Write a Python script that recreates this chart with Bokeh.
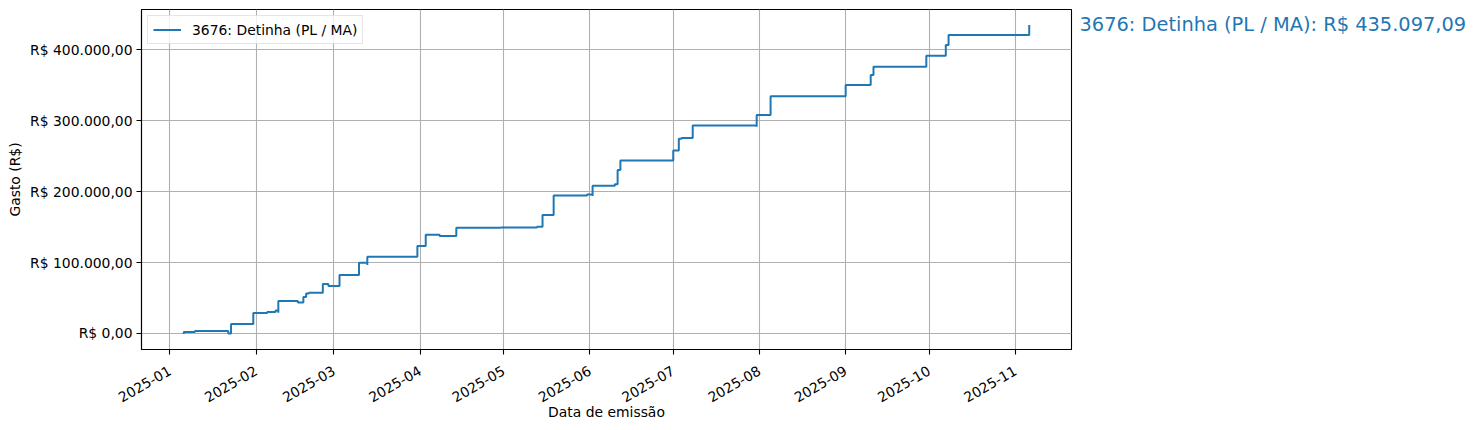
import math
import pandas as pd
from bokeh.plotting import figure
from bokeh.layouts import row
from bokeh.models import (Range1d, FixedTicker, Legend, LegendItem,
                          ColumnDataSource, DatetimeTickFormatter)
from bokeh.core.properties import value
from bokeh.embed import file_html
from bokeh.resources import INLINE

# ---- data ----
series_name = "3676: Detinha (PL / MA)"
dates = [
    "2025-01-06", "2025-01-06", "2025-01-10", "2025-01-16", "2025-01-16",
    "2025-01-22", "2025-01-23", "2025-01-31", "2025-02-05", "2025-02-08",
    "2025-02-09", "2025-02-09", "2025-02-16", "2025-02-18", "2025-02-19",
    "2025-02-20", "2025-02-25", "2025-02-27", "2025-03-03", "2025-03-10",
    "2025-03-13", "2025-03-13", "2025-03-31", "2025-04-03", "2025-04-08",
    "2025-04-14", "2025-04-30", "2025-04-30", "2025-05-13", "2025-05-15",
    "2025-05-19", "2025-05-31", "2025-06-02", "2025-06-02", "2025-06-10",
    "2025-06-11", "2025-06-11", "2025-06-12", "2025-07-01", "2025-07-03",
    "2025-07-04", "2025-07-08", "2025-07-31", "2025-07-31", "2025-08-05",
    "2025-09-01", "2025-09-10", "2025-09-11", "2025-09-30", "2025-10-07",
    "2025-10-08", "2025-11-06",
]
cumulative = [
    -800, 2100, 3500, 2700, 3500,
    0, 13200, 28900, 30300, 32500,
    29300, 45900, 43800, 51500, 56500,
    57300, 69800, 67100, 82600, 99700,
    96500, 108100, 123300, 139400, 137400,
    149100, 150200, 149300, 150500, 167200,
    194600, 195900, 194000, 208500, 210500,
    217300, 230600, 243800, 258100, 274600,
    275700, 293300, 291500, 308000, 334400,
    350400, 364600, 376000, 391600, 407000,
    421000, 435097.09,
]
x_tick_labels = ["2025-01", "2025-02", "2025-03", "2025-04", "2025-05", "2025-06",
                 "2025-07", "2025-08", "2025-09", "2025-10", "2025-11"]
y_ticks = [0, 100000, 200000, 300000, 400000]
y_tick_labels = ["R$ 0,00", "R$ 100.000,00", "R$ 200.000,00", "R$ 300.000,00", "R$ 400.000,00"]


def brl(v):
    s = f"{v:,.2f}"
    return "R$ " + s.replace(",", "X").replace(".", ",").replace("X", ".")


def ms(ts):
    return (ts - pd.Timestamp("1970-01-01")) / pd.Timedelta(milliseconds=1)


x = pd.to_datetime(dates)
xt = pd.to_datetime(x_tick_labels, format="%Y-%m")

# matplotlib-like 5% margins
xmin, xmax = ms(x.min()), ms(x.max())
xpad = 0.05 * (xmax - xmin)
ymin, ymax = min(cumulative), max(cumulative)
ypad = 0.05 * (ymax - ymin)

FONT = "DejaVu Sans"
FS = "13.9px"
BLUE = "#1f77b4"
TOP = 9
FRAME_H = 340

yr = Range1d(ymin - ypad, ymax + ypad)

p = figure(
    x_axis_type="datetime",
    frame_width=930, frame_height=FRAME_H,
    min_border_left=141, min_border_right=4,
    min_border_top=TOP, min_border_bottom=40,
    output_backend="svg", toolbar_location=None,
    x_range=Range1d(xmin - xpad, xmax + xpad),
    y_range=yr,
)

src = ColumnDataSource(dict(x=x, y=cumulative))
r = p.step(x="x", y="y", source=src, mode="after", line_color=BLUE, line_width=2)

# axes
p.xaxis.ticker = FixedTicker(ticks=[ms(t) for t in xt])
fmt = "%Y-%m"
p.xaxis.formatter = DatetimeTickFormatter(
    milliseconds=fmt, seconds=fmt, minsec=fmt, minutes=fmt, hourmin=fmt,
    hours=fmt, days=fmt, months=fmt, years=fmt)
p.xaxis.major_label_orientation = math.pi / 6
p.yaxis.ticker = FixedTicker(ticks=y_ticks)
p.yaxis.major_label_overrides = {t: lab for t, lab in zip(y_ticks, y_tick_labels)}

p.xaxis.axis_label = "Data de emissão"
p.yaxis.axis_label = "Gasto (R$)"
for ax in (p.xaxis, p.yaxis):
    ax.axis_label_text_font = FONT
    ax.axis_label_text_font_size = FS
    ax.axis_label_text_font_style = "normal"
    ax.axis_label_text_color = "black"
    ax.major_label_text_font = FONT
    ax.major_label_text_font_size = FS
    ax.major_label_text_color = "black"
    ax.axis_line_color = "black"
    ax.axis_line_width = 1.1
    ax.major_tick_line_color = "black"
    ax.major_tick_line_width = 1.1
    ax.major_tick_out = 5
    ax.major_tick_in = 0
    ax.minor_tick_line_color = None
    ax.major_label_standoff = 4
p.xaxis.major_label_standoff = 15
p.xaxis.axis_label_standoff = -6
p.yaxis.axis_label_standoff = 4

p.outline_line_color = "black"
p.outline_line_width = 1.1
p.outline_line_alpha = 1
for g in (p.xgrid, p.ygrid):
    g.grid_line_color = "#b0b0b0"
    g.grid_line_width = 1.1

legend = Legend(
    items=[LegendItem(label=series_name, renderers=[r])],
    location="top_left", margin=6, padding=5, spacing=0,
    glyph_width=28, glyph_height=17, label_height=17, label_standoff=11,
    label_text_font=FONT, label_text_font_size=FS, label_text_color="black",
    border_line_color="#cccccc", border_line_width=1,
    background_fill_color="white", background_fill_alpha=0.8,
)
p.add_layout(legend)

# end-of-series annotation, drawn in a side panel sharing the y scale
p2 = figure(
    frame_width=392, frame_height=FRAME_H,
    min_border_left=0, min_border_right=0,
    min_border_top=TOP, min_border_bottom=10,
    output_backend="svg", toolbar_location=None,
    x_range=Range1d(0, 1), y_range=yr,
    x_axis_location=None, y_axis_location=None,
)
p2.grid.visible = False
p2.outline_line_color = None
p2.text(x=[0], y=[cumulative[-1]], text=[f"{series_name}: {brl(cumulative[-1])}"],
        x_offset=4, text_font=value(FONT), text_font_size="19.4px",
        text_color=BLUE, text_baseline="middle", text_align="left")

layout = row(p, p2)
open("out.html", "w").write(file_html(layout, INLINE))
